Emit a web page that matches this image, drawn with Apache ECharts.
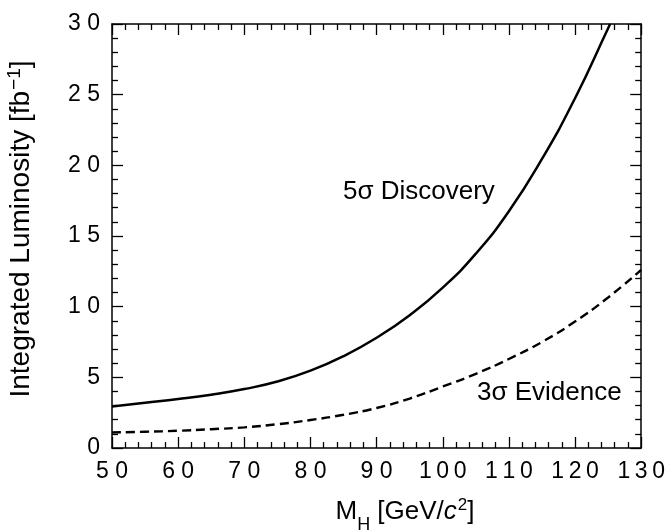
<!DOCTYPE html>
<html>
<head>
<meta charset="utf-8">
<script src="https://cdn.jsdelivr.net/npm/echarts@6/dist/echarts.min.js"></script>
<style>
html,body{margin:0;padding:0;background:#fff;}
#chart{width:668px;height:531px;}
</style>
</head>
<body>
<div id="chart"></div>
<script>
// Higgs mass points [GeV/c^2]
const massPoints = [50, 55, 60, 65, 70, 75, 80, 85, 90, 95, 100, 105, 110, 115, 120, 125, 125.3];
// 5 sigma discovery luminosity [fb^-1]
const discoveryLumi = [2.94, 3.2, 3.46, 3.77, 4.17, 4.7, 5.47, 6.5, 7.8, 9.4, 11.35, 13.75, 16.75, 20.45, 24.75, 29.7, 30.0];
// mass points for 3 sigma evidence curve
const evidenceMass = [50, 55, 60, 65, 70, 75, 80, 85, 90, 95, 100, 105, 110, 115, 120, 125, 130];
const evidenceLumi = [1.10, 1.15, 1.22, 1.33, 1.46, 1.68, 1.98, 2.35, 2.83, 3.5, 4.35, 5.25, 6.3, 7.5, 8.95, 10.65, 12.6];
// axis ranges / ticks
const xTicks = [50, 60, 70, 80, 90, 100, 110, 120, 130];
const yTicks = [0, 5, 10, 15, 20, 25, 30];

const FONT = '"Liberation Sans", Arial, Helvetica, sans-serif';

function spaced(v) {
  const s = String(v);
  if (s.length === 2) return s[0] + ' ' + s[1];
  if (s.length === 3) return s.split('').join('\u2009');
  return s;
}

const lineCol = '#000';
const axisCommon = {
  type: 'value',
  axisLine: { show: true, onZero: false, lineStyle: { color: lineCol, width: 1.5 } },
  axisTick: { show: true, inside: true, length: 11, lineStyle: { color: lineCol, width: 1.3 } },
  minorTick: { show: true, splitNumber: 5, length: 6, lineStyle: { color: lineCol, width: 1.3 } },
  splitLine: { show: false },
  minorSplitLine: { show: false }
};

const chart = echarts.init(document.getElementById('chart'), null, { renderer: 'canvas' });

const option = {
  animation: false,
  backgroundColor: '#fff',
  grid: { left: 112, right: 26, top: 24, bottom: 83, containLabel: false },
  xAxis: [
    Object.assign({}, axisCommon, {
      min: xTicks[0], max: xTicks[xTicks.length - 1], interval: 10, position: 'bottom',
      axisLabel: { show: true, color: '#000', fontSize: 23, fontFamily: FONT, margin: 12, formatter: spaced }
    }),
    Object.assign({}, axisCommon, {
      min: xTicks[0], max: xTicks[xTicks.length - 1], interval: 10, position: 'top',
      axisLabel: { show: false }
    })
  ],
  yAxis: [
    Object.assign({}, axisCommon, {
      min: yTicks[0], max: yTicks[yTicks.length - 1], interval: 5, position: 'left',
      axisLabel: { show: true, color: '#000', fontSize: 23, fontFamily: FONT, margin: 12, formatter: spaced }
    }),
    Object.assign({}, axisCommon, {
      min: yTicks[0], max: yTicks[yTicks.length - 1], interval: 5, position: 'right',
      axisLabel: { show: false }
    })
  ],
  series: [
    {
      name: '5σ Discovery', type: 'line', xAxisIndex: 0, yAxisIndex: 0,
      data: massPoints.map((m, i) => [m, discoveryLumi[i]]),
      symbol: 'none', smooth: 0.5, clip: true,
      lineStyle: { color: '#000', width: 2.5, type: 'solid' }
    },
    {
      name: '3σ Evidence', type: 'line', xAxisIndex: 0, yAxisIndex: 0,
      data: evidenceMass.map((m, i) => [m, evidenceLumi[i]]),
      symbol: 'none', smooth: 0.5, clip: true,
      lineStyle: { color: '#000', width: 2.4, type: [9, 5] }
    }
  ],
  graphic: [
    {
      type: 'text', x: 343, y: 191.6,
      style: { text: '5σ Discovery', fill: '#000', font: '26px ' + FONT, align: 'left', verticalAlign: 'middle' }
    },
    {
      type: 'text', x: 477, y: 392.6,
      style: { text: '3σ Evidence', fill: '#000', font: '26px ' + FONT, align: 'left', verticalAlign: 'middle' }
    },
    {
      type: 'text', x: 405, y: 512,
      style: {
        text: '{m|M}{sub|H}{m| [GeV/}{it|c}{sup|2}{m|]}',
        align: 'center', verticalAlign: 'middle', fill: '#000',
        rich: {
          m: { fontSize: 26, fontFamily: FONT, lineHeight: 44, verticalAlign: 'middle', fill: '#000' },
          it: { fontSize: 26, fontFamily: FONT, fontStyle: 'italic', lineHeight: 44, verticalAlign: 'middle', fill: '#000' },
          sub: { fontSize: 18, fontFamily: FONT, lineHeight: 44, verticalAlign: 'bottom', fill: '#000' },
          sup: { fontSize: 17, fontFamily: FONT, verticalAlign: 'top', padding: [7, 0, 0, 1], fill: '#000' }
        }
      }
    },
    {
      type: 'text', x: 21.5, y: 229, rotation: Math.PI / 2,
      style: {
        text: '{m|Integrated Luminosity [fb}{sup|−1}{m|]}',
        align: 'center', verticalAlign: 'middle', fill: '#000',
        rich: {
          m: { fontSize: 28, fontFamily: FONT, lineHeight: 44, verticalAlign: 'middle', fill: '#000' },
          sup: { fontSize: 19, fontFamily: FONT, verticalAlign: 'top', padding: [6, 0, 0, 1], fill: '#000' }
        }
      }
    }
  ]
};
chart.setOption(option);
</script>
</body>
</html>
